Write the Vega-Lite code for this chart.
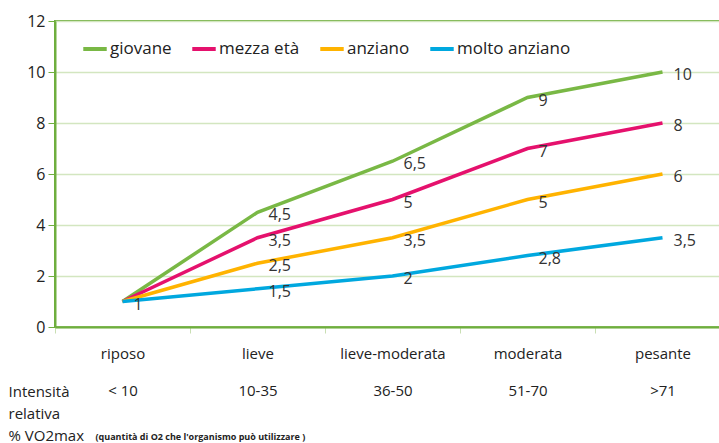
{
  "$schema": "https://vega.github.io/schema/vega-lite/v6.json",
  "width": 675,
  "height": 306,
  "autosize": {"type": "none"},
  "padding": {"left": 55, "top": 21, "right": 0, "bottom": 116},
  "background": "white",
  "config": {
    "font": "Open Sans",
    "view": {"stroke": "#6fae3e", "strokeWidth": 2}
  },
  "data": {
    "values": [
      {"gruppo": "giovane", "intensita": "riposo", "valore": 1, "label": ""},
      {"gruppo": "giovane", "intensita": "lieve", "valore": 4.5, "label": "4,5"},
      {"gruppo": "giovane", "intensita": "lieve-moderata", "valore": 6.5, "label": "6,5"},
      {"gruppo": "giovane", "intensita": "moderata", "valore": 9, "label": "9"},
      {"gruppo": "giovane", "intensita": "pesante", "valore": 10, "label": "10"},
      {"gruppo": "mezza età", "intensita": "riposo", "valore": 1, "label": ""},
      {"gruppo": "mezza età", "intensita": "lieve", "valore": 3.5, "label": "3,5"},
      {"gruppo": "mezza età", "intensita": "lieve-moderata", "valore": 5, "label": "5"},
      {"gruppo": "mezza età", "intensita": "moderata", "valore": 7, "label": "7"},
      {"gruppo": "mezza età", "intensita": "pesante", "valore": 8, "label": "8"},
      {"gruppo": "anziano", "intensita": "riposo", "valore": 1, "label": ""},
      {"gruppo": "anziano", "intensita": "lieve", "valore": 2.5, "label": "2,5"},
      {"gruppo": "anziano", "intensita": "lieve-moderata", "valore": 3.5, "label": "3,5"},
      {"gruppo": "anziano", "intensita": "moderata", "valore": 5, "label": "5"},
      {"gruppo": "anziano", "intensita": "pesante", "valore": 6, "label": "6"},
      {"gruppo": "molto anziano", "intensita": "riposo", "valore": 1, "label": "1"},
      {"gruppo": "molto anziano", "intensita": "lieve", "valore": 1.5, "label": "1,5"},
      {"gruppo": "molto anziano", "intensita": "lieve-moderata", "valore": 2, "label": "2"},
      {"gruppo": "molto anziano", "intensita": "moderata", "valore": 2.8, "label": "2,8"},
      {"gruppo": "molto anziano", "intensita": "pesante", "valore": 3.5, "label": "3,5"}
    ]
  },
  "encoding": {
    "x": {
      "field": "intensita",
      "type": "nominal",
      "sort": ["riposo", "lieve", "lieve-moderata", "moderata", "pesante"],
      "bandPosition": 0.5,
      "scale": {"type": "band", "paddingInner": 0, "paddingOuter": 0},
      "axis": {
        "title": ["Intensità", "relativa", "% VO2max"],
        "titleFontSize": 15,
        "titleFontWeight": "normal",
        "titleColor": "#222",
        "titleAnchor": "start",
        "titleAlign": "left",
        "titleBaseline": "top",
        "titleX": -47,
        "titleY": 57,
        "titleLineHeight": 22,
        "labelAngle": 0,
        "labelFontSize": 15,
        "labelColor": "#222",
        "labelPadding": 13,
        "labelLineHeight": 37,
        "labelExpr": "datum.value == 'riposo' ? ['riposo', '< 10'] : datum.value == 'lieve' ? ['lieve', '10-35'] : datum.value == 'lieve-moderata' ? ['lieve-moderata', '36-50'] : datum.value == 'moderata' ? ['moderata', '51-70'] : datum.value == 'pesante' ? ['pesante', '>71'] : ''",
        "tickBand": "extent",
        "tickColor": "#c9dfb3",
        "tickSize": 6,
        "domainColor": "#6fae3e",
        "domainWidth": 2,
        "grid": false
      }
    },
    "y": {
      "field": "valore",
      "type": "quantitative",
      "scale": {"domain": [0, 12]},
      "axis": {
        "values": [0, 2, 4, 6, 8, 10, 12],
        "title": "(quantità di O2 che l'organismo può utilizzare )",
        "titleAngle": 0,
        "titleFontSize": 9,
        "titleFontWeight": "bold",
        "titleColor": "#222",
        "titleAlign": "left",
        "titleBaseline": "middle",
        "titleX": 40,
        "titleY": 415,
        "labelFontSize": 16,
        "labelColor": "#222",
        "labelPadding": 3,
        "tickColor": "#6fae3e",
        "tickSize": 7,
        "domainColor": "#6fae3e",
        "domainWidth": 2,
        "gridColor": "#d3e6c0",
        "gridWidth": 1.5
      }
    }
  },
  "layer": [
    {
      "mark": {"type": "line", "strokeWidth": 3.5},
      "encoding": {
        "color": {
          "field": "gruppo",
          "type": "nominal",
          "sort": ["giovane", "mezza età", "anziano", "molto anziano"],
          "scale": {
            "domain": ["giovane", "mezza età", "anziano", "molto anziano"],
            "range": ["#79b845", "#e5116d", "#ffb300", "#00a8df"]
          },
          "legend": {
            "orient": "none",
            "legendX": 26,
            "legendY": 14,
            "direction": "horizontal",
            "title": null,
            "symbolType": "stroke",
            "symbolStrokeWidth": 4,
            "symbolSize": 550,
            "labelFontSize": 17,
            "labelColor": "#222",
            "labelOffset": 1,
            "columnPadding": 12
          }
        }
      }
    },
    {
      "mark": {"type": "text", "align": "left", "baseline": "middle", "dx": 11, "dy": 3, "fontSize": 16, "color": "#333"},
      "encoding": {"text": {"field": "label"}}
    }
  ]
}
